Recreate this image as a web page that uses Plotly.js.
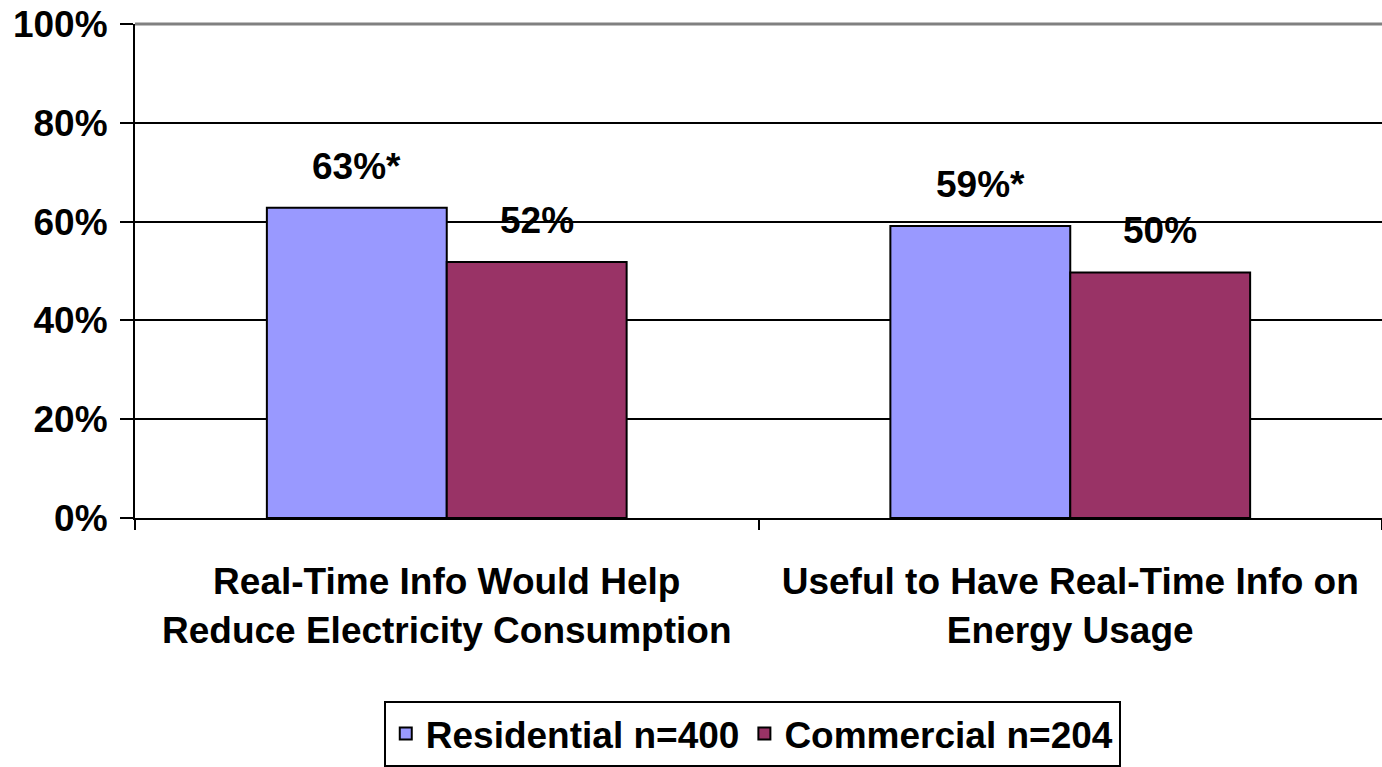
<!DOCTYPE html>
<html>
<head>
<meta charset="utf-8">
<script src="https://cdn.plot.ly/plotly-3.0.1.min.js"></script>
<style>html,body{margin:0;padding:0;background:#fff;}#chart{width:1382px;height:767px;}</style>
</head>
<body>
<div id="chart"></div>
<script>
const categories = ["Real-Time Info Would Help<br>Reduce Electricity Consumption", "Useful to Have Real-Time Info on<br>Energy Usage"];
const residentialValues = [62.8, 59.1];
const commercialValues = [51.8, 49.7];
const residentialLabels = ["63%*", "59%*"];
const commercialLabels = ["52%", "50%"];
const seriesNames = ["Residential n=400", "Commercial n=204"];
const yTickVals = [0, 20, 40, 60, 80, 100];
const yTickText = ["0%", "20%", "40%", "60%", "80%", "100%"];

const FONT = "Liberation Sans, Arial, sans-serif";
const FS = 37;
const W = 1382, H = 767;
const margin = {l: 135, r: 0, t: 24, b: 248};
const bargap = 0.423;
const plotW = W - margin.l - margin.r;
const catW = plotW / categories.length;
const barW = catW * (1 - bargap) / 2;

const traces = [
  {type: 'bar', name: seriesNames[0], x: categories, y: residentialValues,
   marker: {color: '#9999FF', line: {color: '#000', width: 2}}, hoverinfo: 'none'},
  {type: 'bar', name: seriesNames[1], x: categories, y: commercialValues,
   marker: {color: '#993366', line: {color: '#000', width: 2}}, hoverinfo: 'none'}
];

const annotations = [];
categories.forEach((c, i) => {
  annotations.push({x: c, y: residentialValues[i], xref: 'x', yref: 'y', text: residentialLabels[i],
    showarrow: false, yanchor: 'bottom', xshift: -barW / 2, yshift: 19,
    font: {family: FONT, size: FS, color: '#000', weight: 700}});
  annotations.push({x: c, y: commercialValues[i], xref: 'x', yref: 'y', text: commercialLabels[i],
    showarrow: false, yanchor: 'bottom', xshift: barW / 2, yshift: 19,
    font: {family: FONT, size: FS, color: '#000', weight: 700}});
});

const layout = {
  width: W, height: H, margin: margin,
  paper_bgcolor: '#fff', plot_bgcolor: '#fff',
  barmode: 'group', bargap: bargap, bargroupgap: 0,
  font: {family: FONT, size: FS, color: '#000', weight: 700},
  xaxis: {
    type: 'category', tickson: 'boundaries', ticks: 'outside', ticklen: 10, tickwidth: 2, tickcolor: '#000',
    showline: true, linecolor: '#000', linewidth: 2, showgrid: false,
    tickfont: {family: FONT, size: FS, color: '#000', weight: 700},
    ticklabelstandoff: 30
  },
  yaxis: {
    range: [0, 100], tickvals: yTickVals, ticktext: yTickText,
    ticks: 'outside', ticklen: 13, tickwidth: 2, tickcolor: '#000',
    showline: true, linecolor: '#000', linewidth: 2,
    showgrid: true, gridcolor: '#000', gridwidth: 2, zeroline: false,
    tickfont: {family: FONT, size: FS, color: '#000', weight: 700},
    ticklabelstandoff: 5
  },
  shapes: [{type: 'line', xref: 'paper', yref: 'paper', x0: 0, x1: 1, y0: 1, y1: 1,
            line: {color: '#808080', width: 3}, layer: 'above'}],
  legend: {
    orientation: 'h', x: 0.495, xanchor: 'center', y: -0.37, yanchor: 'top',
    bordercolor: '#000', borderwidth: 2, bgcolor: '#fff',
    font: {family: FONT, size: FS, color: '#000', weight: 700},
    itemwidth: 30, tracegroupgap: 0
  },
  annotations: annotations,
  showlegend: true
};

Plotly.newPlot('chart', traces, layout, {staticPlot: true, displayModeBar: false});
</script>
</body>
</html>
